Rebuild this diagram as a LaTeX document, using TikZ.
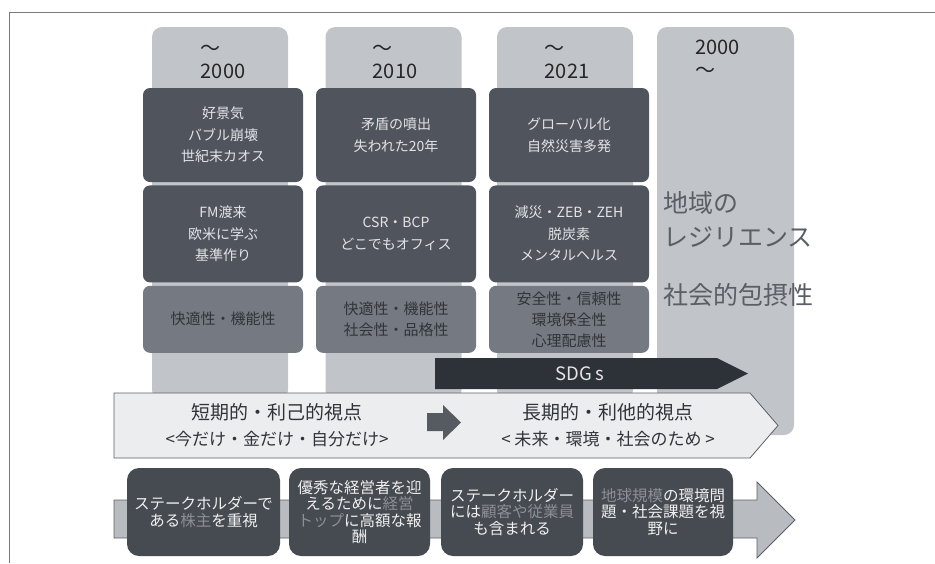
\documentclass[tikz,border=0pt]{standalone}
\usepackage{fontspec}
\setmainfont{Noto Sans CJK JP}
\usepackage{xcolor}
\usepackage{tikz}
\usetikzlibrary{positioning}

\definecolor{colbg}{HTML}{C1C4C9}
\definecolor{boxdark}{HTML}{50555D}
\definecolor{boxmid}{HTML}{757A82}
\definecolor{sdgfill}{HTML}{2D3138}
\definecolor{lightfill}{HTML}{ECEDEF}
\definecolor{edgegray}{HTML}{5B5F66}
\definecolor{botdark}{HTML}{464A51}
\definecolor{botarrow}{HTML}{B8BBC0}
\definecolor{txtlight}{HTML}{E2E3E6}
\definecolor{txtdark}{HTML}{30343A}
\definecolor{hlgray}{HTML}{8C9096}
\definecolor{bigtxt}{HTML}{5A5E65}
\definecolor{framegray}{HTML}{7A7A7A}

\begin{document}
\begin{tikzpicture}[
  x=1pt, y=-1pt,
  node distance=3pt and 3pt,
  colbox/.style={fill=colbg, rounded corners=10pt, minimum width=136pt, inner sep=0pt},
  hdr/.style={align=left, inner sep=0pt, text=black!85, font=\fontsize{20}{23}\selectfont},
  dbox/.style={fill=boxdark, rounded corners=7pt, minimum width=160pt, inner sep=0pt, text=txtlight, align=center, font=\fontsize{14}{21.5}\selectfont},
  mbox/.style={dbox, fill=boxmid, text=txtdark, font=\fontsize{15}{21}\selectfont},
  bigtext/.style={anchor=west, inner sep=0pt, align=left, text=bigtxt, font=\fontsize{25}{34}\selectfont},
  viewtext/.style={inner sep=0pt, text=txtdark},
  bbox/.style={fill=botdark, rounded corners=12pt, minimum height=88pt, inner sep=0pt, text=white!94!black, align=center, font=\fontsize{15.5}{16.5}\selectfont}
]
\useasboundingbox (0,0) rectangle (935,563);

% Frame
\draw[framegray, line width=0.8pt] (935,12.5) -- (9.5,12.5) -- (9.5,563);

% Column backgrounds
\node[colbox, minimum height=373pt] (col1) at (220,213.5) {};
\node[colbox, minimum height=373pt] (col2) at (393.5,213.5) {};
\node[colbox, minimum height=373pt] (col3) at (565,213.5) {};
\node[colbox, minimum width=137pt, minimum height=408pt] (col4) at (725.5,231) {};

% Headers
\node[hdr] (hd1) at (223,62) {～\\2000};
\node[hdr] (hd2) at (395,62) {～\\2010};
\node[hdr] (hd3) at (567,62) {～\\2021};
\node[hdr, anchor=north west] (hd4) at (695,40) {2000\\～};

% Column 1
\node[dbox, minimum height=94pt] (a1) at (223,135) {好景気\\バブル崩壊\\世紀末カオス};
\node[dbox, minimum height=97pt, below=of a1] (a2) {FM渡来\\欧米に学ぶ\\基準作り};
\node[mbox, minimum height=67pt, below=of a2] (a3) {快適性・機能性};

% Column 2
\node[dbox, minimum height=94pt] (b1) at (396,135) {矛盾の噴出\\失われた20年};
\node[dbox, minimum height=97pt, below=of b1] (b2) {CSR・BCP\\どこでもオフィス};
\node[mbox, minimum height=67pt, below=of b2] (b3) {快適性・機能性\\社会性・品格性};

% Column 3
\node[dbox, minimum height=94pt] (c1) at (569,135) {グローバル化\\自然災害多発};
\node[dbox, minimum height=97pt, below=of c1] (c2) {減災・ZEB・ZEH\\脱炭素\\メンタルヘルス};
\node[mbox, minimum height=67pt, below=of c2] (c3) {安全性・信頼性\\環境保全性\\心理配慮性};

% Column 4
\node[bigtext] (region) at (663,220) {地域の\\レジリエンス};
\node[bigtext] (incl) at (663,295) {社会的包摂性};

% SDGs
\fill[sdgfill] (435,358) -- (717,358) -- (748,373.5) -- (717,389) -- (435,389) -- cycle;
\node[text=white!90!black, font=\fontsize{18.5}{20}\selectfont] (sdg) at (580,373.5) {SDG s};

% Viewpoint arrow
\filldraw[fill=lightfill, draw=edgegray, line width=0.8pt]
  (114,393) -- (750,393) -- (778,425.5) -- (750,458) -- (114,458) -- cycle;
\fill[edgegray!95!black] (427,413) -- (443,413) -- (443,405) -- (461,422.5) -- (443,440) -- (443,431) -- (427,431) -- cycle;
\node[viewtext, font=\fontsize{19}{20}\selectfont] (short) at (277,412) {短期的・利己的視点};
\node[viewtext, font=\fontsize{17}{18}\selectfont] (shortsub) at (277,439) {<今だけ・金だけ・自分だけ>};
\node[viewtext, font=\fontsize{19}{20}\selectfont] (long) at (608,412) {長期的・利他的視点};
\node[viewtext, font=\fontsize{17}{18}\selectfont] (longsub) at (608,439) {< 未来・環境・社会のため >};

% Bottom row
\filldraw[fill=botarrow, draw=edgegray, line width=0.8pt]
  (114,500) -- (757,500) -- (757,482) -- (795,520) -- (757,558) -- (757,538) -- (114,538) -- cycle;
\node[bbox, minimum width=153pt] (s1) at (203.5,512) {ステークホルダーで\\ある{\color{hlgray}株主}を重視};
\node[bbox, minimum width=141pt] (s2) at (359.5,512) {優秀な経営者を迎\\えるために{\color{hlgray}経営}\\{\color{hlgray}トップ}に高額な報\\酬};
\node[bbox, minimum width=142pt] (s3) at (512,512) {ステークホルダー\\には{\color{hlgray}顧客や従業員}\\も含まれる};
\node[bbox, minimum width=140pt] (s4) at (663,512) {{\color{hlgray}地球規模}の環境問\\題・社会課題を視\\野に};

\end{tikzpicture}
\end{document}
